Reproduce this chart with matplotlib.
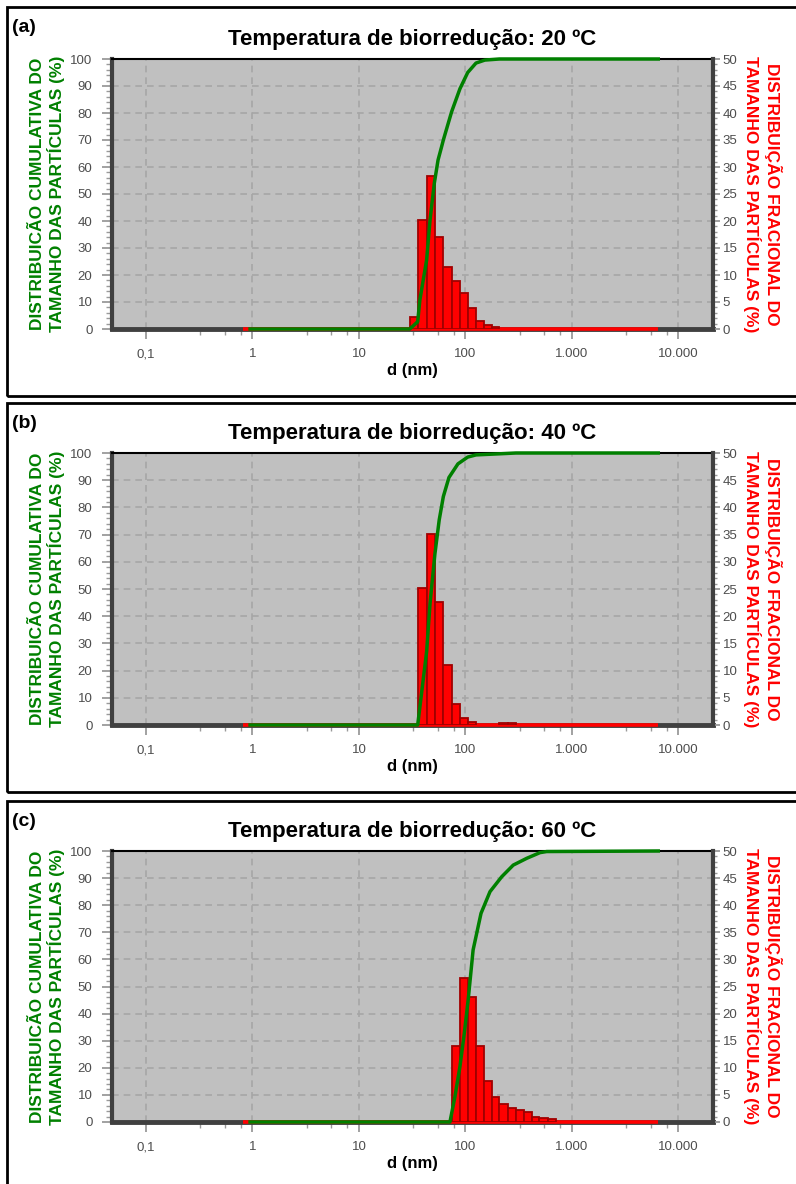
import numpy as np
import matplotlib.pyplot as plt
from matplotlib.patches import Rectangle
from matplotlib.ticker import FixedLocator, MultipleLocator, NullFormatter

plt.rcParams['font.family'] = ['Liberation Sans', 'DejaVu Sans']

temperatures = ['20', '40', '60']
panel_tags = ['(a)', '(b)', '(c)']

# fractional distribution: bin edges (nm) and % of particles in each bin
bins_20 = [30.0, 35.6, 43.2, 51.7, 62.0, 74.2, 88.8, 105.0, 125.6, 149.0, 176.0, 208.0]
frac_20 = [2.2, 20.2, 28.4, 17.0, 11.5, 8.9, 6.7, 3.8, 1.5, 0.7, 0.4]

bins_40 = [35.6, 43.2, 51.7, 62.0, 74.2, 88.8, 105.0, 125.6, 149.0, 176.0, 208.0, 249.0, 298.0]
frac_40 = [25.2, 35.2, 22.6, 11.0, 3.8, 1.2, 0.5, 0.0, 0.0, 0.0, 0.4, 0.4]

bins_60 = [74.2, 88.8, 105.0, 125.6, 149.0, 176.0, 208.0, 249.0, 298.0, 354.0, 418.0, 493.0, 592.0, 703.0]
frac_60 = [14.1, 26.5, 23.0, 14.1, 7.6, 4.7, 3.3, 2.5, 2.3, 1.8, 1.0, 0.8, 0.55]

# cumulative distribution (%)
cum_d_20 = [0.95, 30.0, 35.6, 37.3, 43.2, 46.5, 51.0, 55.3, 59.7, 62.0, 74.2, 88.8, 105.0, 125.6, 152.0, 208.0, 6460.0]
cum_20 = [0, 0, 2.7, 10.7, 25.6, 40.4, 54.0, 62.6, 67.5, 70.0, 80.5, 89.0, 95.0, 98.5, 99.6, 100, 100]

cum_d_40 = [0.95, 35.6, 43.2, 46.5, 51.7, 56.7, 62.0, 70.0, 85.0, 105.0, 125.6, 208.0, 298.0, 6460.0]
cum_40 = [0, 0, 27.0, 44.7, 63.0, 75.4, 84.0, 91.0, 96.0, 98.5, 99.3, 99.7, 100, 100]

cum_d_60 = [0.95, 71.5, 79.6, 88.7, 97.5, 106.0, 118.0, 140.0, 170.0, 219.0, 281.0, 376.0, 501.0, 579.0, 6460.0]
cum_60 = [0, 0, 9.3, 20.4, 32.7, 45.0, 63.5, 77.0, 85.0, 90.5, 94.8, 97.3, 99.4, 99.8, 100]

# measured size range of the analyser (nm)
d_range = [0.81, 6460.0]

bins_all = [bins_20, bins_40, bins_60]
frac_all = [frac_20, frac_40, frac_60]
cum_d_all = [cum_d_20, cum_d_40, cum_d_60]
cum_all = [cum_20, cum_40, cum_60]

x_ticks = [0.1, 1, 10, 100, 1000, 10000]
x_ticklabels = ['0,1', '1', '10', '100', '1.000', '10.000']
x_minor = [dec * s for dec in [0.1, 1, 10, 100, 1000] for s in (3.25, 5.5, 7.75)]

left_label = 'DISTRIBUICÃO CUMULATIVA DO\nTAMANHO DAS PARTÍCULAS (%)'
right_label = 'DISTRIBUIÇÃO FRACIONAL DO\nTAMANHO DAS PARTÍCULAS (%)'

W, H = 796, 1184
fig = plt.figure(figsize=(W / 100, H / 100), dpi=100)

ax_tops = [59, 453, 851]
ax_bottoms = [329, 725, 1122]
frame_tops = [7, 403, 801]
frame_bottoms = [396, 792, 1192]

green = '#008000'
red = '#ff0000'
spine_gray = '#404040'

for i in range(3):
    # outer frame of each panel
    fig.add_artist(Rectangle((7 / W, 1 - frame_bottoms[i] / H), 1.0,
                             (frame_bottoms[i] - frame_tops[i]) / H,
                             transform=fig.transFigure, fill=False,
                             edgecolor='black', linewidth=2))
    fig.text(12 / W, 1 - (frame_tops[i] + 20) / H, panel_tags[i],
             fontsize=14, fontweight='bold', ha='left', va='center')

    ax = fig.add_axes([112 / W, 1 - ax_bottoms[i] / H, 601 / W,
                       (ax_bottoms[i] - ax_tops[i]) / H])
    ax.set_facecolor('#c0c0c0')
    ax.set_xscale('log')
    ax.set_axisbelow(True)
    ax.grid(True, which='major', color='#a6a6a6', linestyle=(0, (4, 3)), linewidth=1.2)

    ax2 = ax.twinx()

    # zero baseline over the measured range, then the bars, then the cumulative curve
    ax2.plot(d_range, [0, 0], color=red, linewidth=2.6, solid_capstyle='butt',
             clip_on=False, zorder=1)
    edges = np.array(bins_all[i])
    frac = np.array(frac_all[i])
    keep = frac > 0
    ax2.bar(edges[:-1][keep], frac[keep], width=np.diff(edges)[keep], align='edge',
            color=red, edgecolor='#a00000', linewidth=1.3, zorder=2)
    ax2.plot(cum_d_all[i], cum_all[i], transform=ax.transData, color=green,
             linewidth=2.5, clip_on=False, zorder=3)

    ax.set_xlim(0.048, 21100)
    ax.set_ylim(0, 100)
    ax2.set_ylim(0, 50)

    ax.xaxis.set_major_locator(FixedLocator(x_ticks))
    ax.set_xticklabels(x_ticklabels)
    ax.xaxis.set_minor_locator(FixedLocator(x_minor))
    ax.xaxis.set_minor_formatter(NullFormatter())
    ax.yaxis.set_major_locator(MultipleLocator(10))
    ax.yaxis.set_minor_locator(MultipleLocator(2))
    ax2.yaxis.set_major_locator(MultipleLocator(5))
    ax2.yaxis.set_minor_locator(MultipleLocator(1))

    ax.tick_params(which='major', direction='out', length=7, width=1.3,
                   color='#9a9a9a', labelcolor='#4d4d4d', labelsize=9.5, pad=7)
    ax.tick_params(which='minor', direction='out', length=4, width=1.0, color='#9a9a9a')
    ax2.tick_params(which='major', direction='out', length=5, width=1.3,
                    color='#9a9a9a', labelcolor='#4d4d4d', labelsize=9.5, pad=2)
    ax2.tick_params(which='minor', direction='out', length=3, width=1.0, color='#9a9a9a')

    ax.spines['left'].set_color(spine_gray)
    ax.spines['left'].set_linewidth(3)
    ax.spines['bottom'].set_color(spine_gray)
    ax.spines['bottom'].set_linewidth(3.5)
    ax.spines['top'].set_color('black')
    ax.spines['top'].set_linewidth(1.5)
    ax.spines['right'].set_visible(False)
    for side in ['left', 'bottom', 'top']:
        ax2.spines[side].set_visible(False)
    ax2.spines['right'].set_color(spine_gray)
    ax2.spines['right'].set_linewidth(3)

    ax.set_title(f'Temperatura de biorredução: {temperatures[i]} ºC',
                 fontsize=16, fontweight='bold', pad=10)
    ax.set_xlabel('d (nm)', fontsize=12, fontweight='bold')
    ax.xaxis.set_label_coords(0.5, -0.125)

    ax.text(-0.107, 0.5, left_label, transform=ax.transAxes, rotation=90,
            ha='center', va='center', fontsize=12.5, fontweight='bold',
            color=green, linespacing=1.15)
    ax.text(1.0825, 0.5, right_label, transform=ax.transAxes, rotation=270,
            ha='center', va='center', fontsize=12.5, fontweight='bold',
            color=red, linespacing=1.15)

fig.savefig('out.png', dpi=100)
